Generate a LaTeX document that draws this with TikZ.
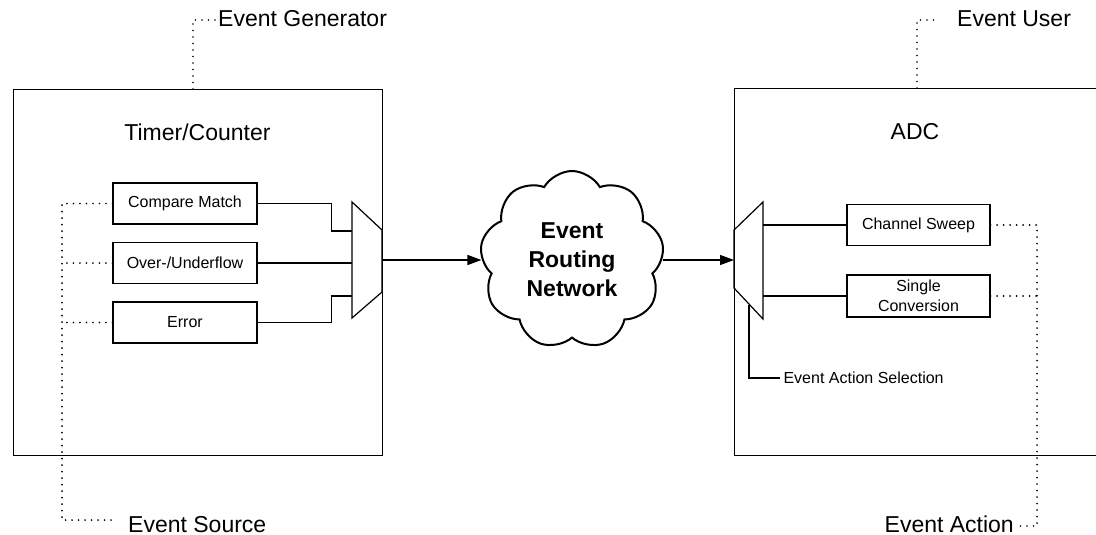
\documentclass[tikz,border=0pt]{standalone}
\usepackage{fontspec}
\setmainfont{Liberation Sans}
\usetikzlibrary{arrows.meta,shapes.symbols}
\tikzset{
  block/.style={draw,line width=1.2pt,inner sep=0pt},
  srcbox/.style={draw,line width=1.2pt,minimum width=144pt,minimum height=41pt,inner sep=0pt,align=center,font=\fontsize{16}{20}\selectfont},
  wire/.style={line width=1.2pt},
  annot/.style={line width=1.8pt,dash pattern=on 0pt off 6.5pt,line cap=round},
  bigtext/.style={font=\fontsize{23}{28}\selectfont},
  smalltext/.style={font=\fontsize{16}{20}\selectfont}
}
\begin{document}
\begin{tikzpicture}[x=1pt,y=-1pt]
    \useasboundingbox (0,0) rectangle (1096,535);
    % generator side
    \node [block,anchor=north west,minimum width=369pt,minimum height=366pt] (tc) at (13,89) {};
    \node [bigtext] (tctitle) at (197.5,132) {Timer/Counter};
    \node [srcbox] (cm) at (185,203.5) {Compare Match};
    \node [srcbox] (ou) at (185,263) {Over-/Underflow};
    \node [srcbox] (er) at (185,322.5) {Error};
    \draw [wire] (352,202)--(382,230)--(382,292)--(352,318)--cycle;
    \coordinate (gin1) at (352,231);
    \coordinate (gin2) at (352,263);
    \coordinate (gin3) at (352,296);
    \coordinate (gout) at (382,260);
    \draw [wire] (cm.east)--++(74,0)|-(gin1);
    \draw [wire] (ou.east)--(gin2);
    \draw [wire] (er.east)--++(74,0)|-(gin3);
    % routing network
    \node [cloud,draw,line width=2pt,cloud puffs=9,cloud puff arc=120,aspect=1.02,
           minimum width=184pt,minimum height=178pt,align=center,
           font=\fontsize{23}{29}\selectfont\bfseries] (net) at (572,260) {Event\\Routing\\Network};
    \draw [wire,-{Triangle[length=14pt,width=10pt]}] (gout)--(gout-|net.west);
    % user side
    \node [block,anchor=north west,minimum width=366pt,minimum height=367pt] (adc) at (734,88) {};
    \node [bigtext] (adctitle) at (915,132) {ADC};
    \coordinate (uin) at (734,260);
    \coordinate (uout1) at (763,225);
    \coordinate (uout2) at (763,296);
    \draw [wire] (734,230)--(763,202)--(763,319)--(734,288)--cycle;
    \node [srcbox,minimum width=143pt] (cs) at (918.5,225) {Channel Sweep};
    \node [srcbox,minimum width=143pt,minimum height=42pt] (sc) at (918.5,296) {Single\\Conversion};
    \draw [wire] (uout1)--(cs.west);
    \draw [wire] (uout2)--(sc.west);
    \draw [wire,-{Triangle[length=14pt,width=10pt]}] (uin-|net.east)--(uin);
    \node [smalltext,anchor=west] (eas) at (780,378) {Event Action Selection};
    \draw [wire] (eas.west)-|(749,304.5);
    % annotations
    \node [bigtext,anchor=base west,inner sep=2pt] (eg) at (216,27) {Event Generator};
    \draw [annot] (193,89)--(193,20)--(eg.west|-193,20);
    \node [bigtext,anchor=base west,inner sep=2pt] (eu) at (955,27) {Event User};
    \draw [annot] (917,88)--(917,20)--(937,20);
    \node [bigtext,anchor=base west,inner sep=2pt] (es) at (126,532) {Event Source};
    \coordinate (estap) at (62,520);
    \draw [annot] (cm.west)-|(estap)--(113,520);
    \draw [annot] (ou.west)--(ou.west-|estap);
    \draw [annot] (er.west)--(er.west-|estap);
    \node [bigtext,anchor=base east,inner sep=2pt] (ea) at (1016,532) {Event Action};
    \coordinate (eatap) at (1037,526);
    \draw [annot] (cs.east)-|(eatap)--(ea.east|-eatap);
    \draw [annot] (sc.east)--(sc.east-|eatap);
\end{tikzpicture}
\end{document}
